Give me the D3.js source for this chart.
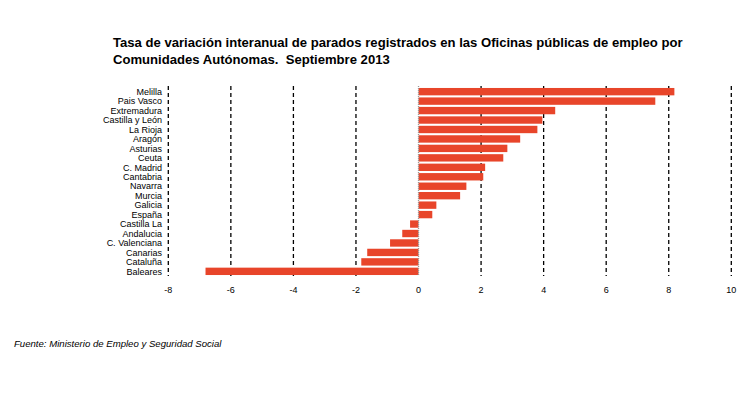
<!DOCTYPE html>
<html>
<head>
<meta charset="utf-8">
<style>
    body {
        margin: 0;
        background: #fff;
        font-family: "Liberation Sans", Arial, sans-serif;
    }
    .title {
        font-size: 13.1px;
        font-weight: bold;
        fill: #000;
        white-space: pre;
    }
    .cat-label {
        font-size: 9px;
        text-anchor: end;
        fill: #000;
    }
    .tick-label {
        font-size: 9px;
        text-anchor: middle;
        fill: #000;
    }
    .grid {
        stroke: #000;
        stroke-width: 1.3;
        stroke-dasharray: 4,3;
    }
    .zero {
        stroke: #999;
        stroke-width: 1.3;
        stroke-dasharray: 1,1;
    }
    .bar {
        fill: #e8452a;
    }
    .source {
        font-size: 9.6px;
        font-style: italic;
        fill: #000;
    }
</style>
</head>
<body>
<script src="https://cdn.jsdelivr.net/npm/d3@7"></script>
<script>

    var categories = ["Melilla", "Pais Vasco", "Extremadura", "Castilla y León", "La Rioja",
        "Aragón", "Asturias", "Ceuta", "C. Madrid", "Cantabria", "Navarra", "Murcia",
        "Galicia", "España", "Castilla La", "Andalucia", "C. Valenciana", "Canarias",
        "Cataluña", "Baleares"];

    var values = [8.18, 7.57, 4.37, 3.96, 3.80, 3.25, 2.84, 2.71, 2.13, 2.07, 1.53, 1.33,
        0.57, 0.44, -0.27, -0.52, -0.91, -1.64, -1.83, -6.81];

    var tickValues = [-8, -6, -4, -2, 0, 2, 4, 6, 8, 10];

    var titleLines = [
        "Tasa de variación interanual de parados registrados en las Oficinas públicas de empleo por",
        "Comunidades Autónomas.  Septiembre 2013"
    ];

    var source = "Fuente: Ministerio de Empleo y Seguridad Social";

    var width = 756,
        height = 408,
        plotTop = 86,
        plotBottom = 276;

    var data = categories.map(function(c, i) { return {cat: c, value: values[i]}; });

    var x = d3.scaleLinear()
        .domain([-8, 10])
        .range([168.3, 731.3]);

    var y = d3.scaleBand()
        .domain(categories)
        .range([plotTop + 1.5, plotBottom - 0.5])
        .paddingInner(0.22)
        .paddingOuter(0.05);

    var svg = d3.select("body").append("svg")
        .attr("width", width)
        .attr("height", height);

    svg.append("g")
        .selectAll("text")
        .data(titleLines)
      .enter().append("text")
        .attr("class", "title")
        .attr("x", 113)
        .attr("y", function(d, i) { return 46.5 + i * 17; })
        .text(function(d) { return d; });

    // dashed grid at every tick except zero
    svg.append("g")
        .selectAll("line")
        .data(tickValues.filter(function(d) { return d !== 0; }))
      .enter().append("line")
        .attr("class", "grid")
        .attr("x1", function(d) { return x(d); })
        .attr("x2", function(d) { return x(d); })
        .attr("y1", plotTop)
        .attr("y2", plotBottom);

    svg.append("g")
        .selectAll("rect")
        .data(data)
      .enter().append("rect")
        .attr("class", "bar")
        .attr("x", function(d) { return x(Math.min(0, d.value)); })
        .attr("y", function(d) { return y(d.cat); })
        .attr("width", function(d) { return Math.abs(x(d.value) - x(0)); })
        .attr("height", y.bandwidth());

    svg.append("line")
        .attr("class", "zero")
        .attr("x1", x(0))
        .attr("x2", x(0))
        .attr("y1", plotTop)
        .attr("y2", plotBottom);

    svg.append("g")
        .selectAll("text")
        .data(categories)
      .enter().append("text")
        .attr("class", "cat-label")
        .attr("x", 162)
        .attr("y", function(d) { return y(d) + y.bandwidth() / 2 + 3.2; })
        .text(function(d) { return d; });

    svg.append("g")
        .selectAll("text")
        .data(tickValues)
      .enter().append("text")
        .attr("class", "tick-label")
        .attr("x", function(d) { return x(d); })
        .attr("y", 292.5)
        .text(function(d) { return d; });

    svg.append("text")
        .attr("class", "source")
        .attr("x", 14)
        .attr("y", 347)
        .text(source);
</script>
</body>
</html>
